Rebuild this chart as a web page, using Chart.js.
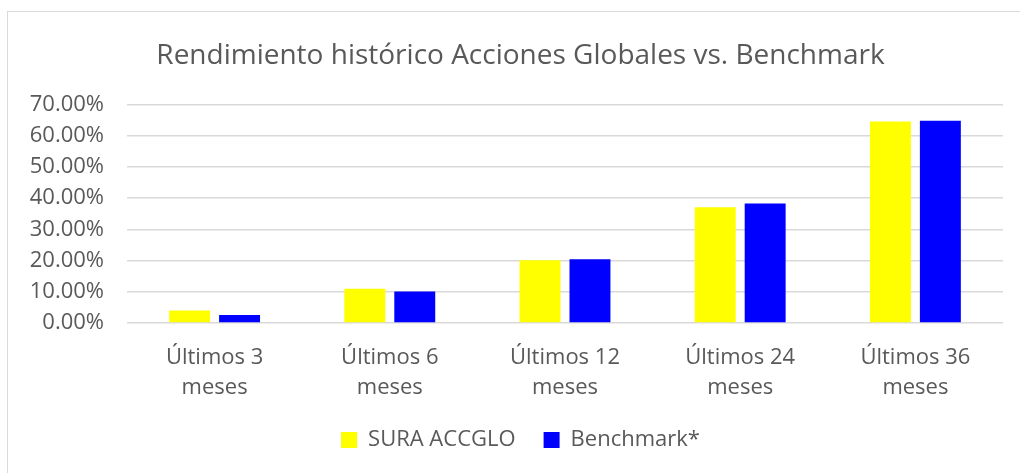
<!DOCTYPE html>
<html>
<head>
<meta charset="utf-8">
<script src="https://cdn.jsdelivr.net/npm/chart.js@4"></script>
<style>
  html, body { margin: 0; padding: 0; background: #fff; }
  #wrap { position: relative; width: 1020px; height: 473px; overflow: hidden; }
  #frame { position: absolute; left: 7px; top: 11px; width: 1100px; height: 600px; border: 1px solid #d9d9d9; }
  canvas { position: absolute; left: 0; top: 0; }
</style>
</head>
<body>
<div id="wrap">
  <div id="frame"></div>
  <canvas id="chart" width="1020" height="473"></canvas>
</div>
<script>
// rendimiento acumulado por periodo (%)
var periods = [
  ['Últimos 3', 'meses'],
  ['Últimos 6', 'meses'],
  ['Últimos 12', 'meses'],
  ['Últimos 24', 'meses'],
  ['Últimos 36', 'meses']
];
var sura = [4.0, 11.0, 20.1, 37.1, 64.6];
var benchmark = [2.6, 10.1, 20.4, 38.3, 64.8];
var yMin = 0, yMax = 70, yStep = 10;

var gray = '#595959';
var font = '"Open Sans", sans-serif';

// deja que las etiquetas del eje Y salgan del margen izquierdo sin recortarse
var yLabelRoom = {
  id: 'yLabelRoom',
  beforeDraw: function (chart) { chart.scales.y.left = 0; }
};

var ctx = document.getElementById('chart').getContext('2d');
var chart = new Chart(ctx, {
  type: 'bar',
  data: {
    labels: periods,
    datasets: [{
      label: 'SURA ACCGLO',
      data: sura,
      backgroundColor: '#ffff00',
      borderWidth: 0
    }, {
      label: 'Benchmark*',
      data: benchmark,
      backgroundColor: '#0000ff',
      borderWidth: 0
    }]
  },
  plugins: [yLabelRoom],
  options: {
    responsive: false,
    animation: false,
    categoryPercentage: 0.57,
    barPercentage: 0.82,
    layout: { padding: { left: 38, right: 17, top: 39, bottom: 12 } },
    plugins: {
      tooltip: { enabled: false },
      title: {
        display: true,
        text: 'Rendimiento histórico Acciones Globales vs. Benchmark',
        color: gray,
        font: { family: font, size: 28, weight: 'normal' },
        padding: { top: 0, bottom: 32 }
      },
      legend: {
        position: 'bottom',
        labels: {
          color: gray,
          font: { family: font, size: 22 },
          boxWidth: 16,
          boxHeight: 16,
          padding: 28
        }
      }
    },
    scales: {
      x: {
        grid: { display: false },
        border: { display: false },
        ticks: {
          color: gray,
          font: { family: font, size: 22, lineHeight: 1.36 },
          padding: 12,
          maxRotation: 0
        },
        afterFit: function (scale) { scale.height = 78; }
      },
      y: {
        min: yMin,
        max: yMax,
        border: { display: false },
        grid: { color: '#d9d9d9', lineWidth: 1.5, drawTicks: false },
        ticks: {
          stepSize: yStep,
          color: gray,
          font: { family: font, size: 22 },
          padding: 23,
          callback: function (v) { return v.toFixed(2) + '%'; }
        },
        afterFit: function (scale) { scale.width = 89; }
      }
    }
  }
});
</script>
</body>
</html>
